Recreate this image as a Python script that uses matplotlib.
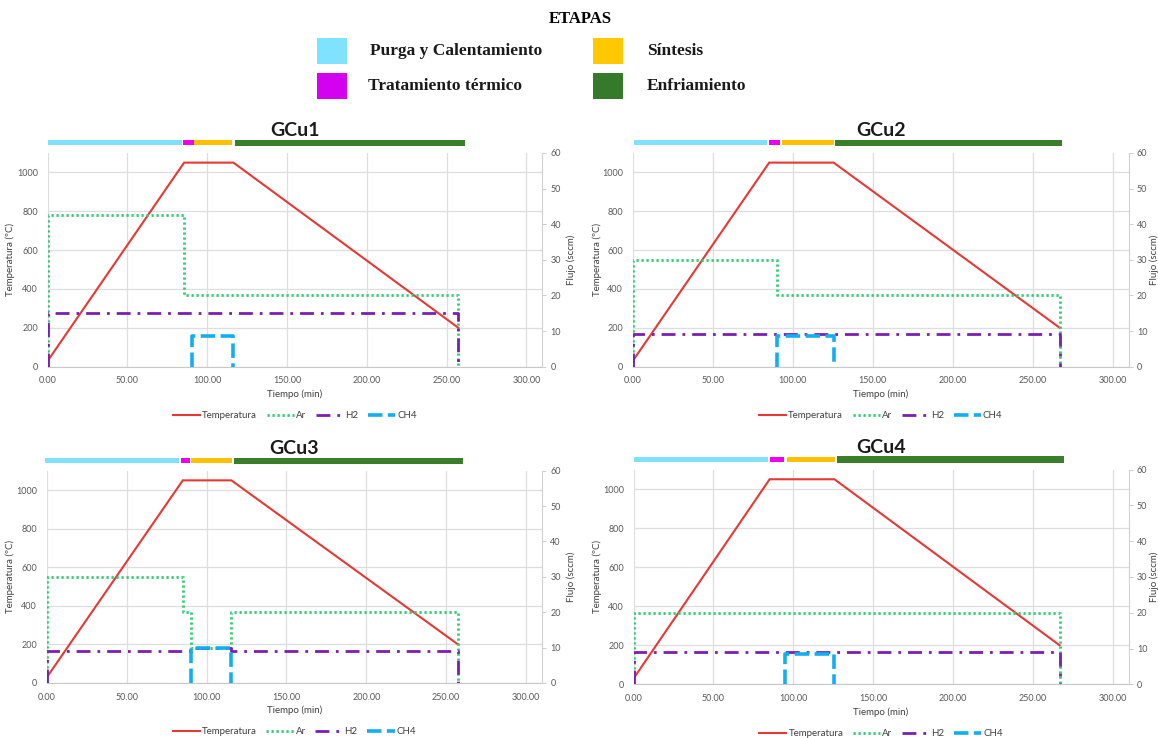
import matplotlib
matplotlib.use("Agg")
import matplotlib.pyplot as plt
from matplotlib.lines import Line2D

# ---------------- data ----------------
panel_names = ["GCu1", "GCu2", "GCu3", "GCu4"]

# Temperature profiles (time in min, temperature in ºC)
gcu1_temp_t = [0, 85.5, 116.4, 257.4]
gcu1_temp = [30, 1050, 1050, 200]
gcu2_temp_t = [0, 85.3, 125.6, 267.0]
gcu2_temp = [30, 1050, 1050, 200]
gcu3_temp_t = [0, 85.1, 115.5, 257.4]
gcu3_temp = [30, 1050, 1050, 200]
gcu4_temp_t = [0, 85.2, 125.8, 266.8]
gcu4_temp = [30, 1050, 1050, 200]

# Ar flow (sccm)
gcu1_ar_t = [0, 0, 85.5, 85.5, 257.4, 257.4]
gcu1_ar = [0, 42.5, 42.5, 20, 20, 0]
gcu2_ar_t = [0, 0, 90.3, 90.3, 267.0, 267.0]
gcu2_ar = [0, 30, 30, 20, 20, 0]
gcu3_ar_t = [0, 0, 85.1, 85.1, 90.5, 90.5, 115.3, 115.3, 257.4, 257.4]
gcu3_ar = [0, 30, 30, 20, 20, 10, 10, 20, 20, 0]
gcu4_ar_t = [0, 0, 266.8, 266.8]
gcu4_ar = [0, 20, 20, 0]

# H2 flow (sccm)
gcu1_h2_t = [0, 0, 257.4, 257.4]
gcu1_h2 = [0, 15, 15, 0]
gcu2_h2_t = [0, 0, 267.0, 267.0]
gcu2_h2 = [0, 9.2, 9.2, 0]
gcu3_h2_t = [0, 0, 90.2, 90.2, 115.5, 115.5, 257.4, 257.4]
gcu3_h2 = [0, 9, 9, 10, 10, 9, 9, 0]
gcu4_h2_t = [0, 0, 266.8, 266.8]
gcu4_h2 = [0, 9, 9, 0]

# CH4 flow (sccm)
gcu1_ch4_t = [90.2, 90.2, 116.4, 116.4]
gcu1_ch4 = [0, 8.7, 8.7, 0]
gcu2_ch4_t = [90.3, 90.3, 125.6, 125.6]
gcu2_ch4 = [0, 8.6, 8.6, 0]
gcu3_ch4_t = [90.2, 90.2, 115.5, 115.5]
gcu3_ch4 = [0, 10, 10, 0]
gcu4_ch4_t = [95.0, 95.0, 125.8, 125.8]
gcu4_ch4 = [0, 8.6, 8.6, 0]

# Stage bars (start, end) in minutes
stage_names = ["Purga y Calentamiento", "Tratamiento térmico", "Síntesis", "Enfriamiento"]
gcu1_stages = [(0, 83.9), (84.9, 91.4), (91.8, 115.5), (117.3, 261.3)]
gcu2_stages = [(0.5, 84.1), (85.0, 91.9), (93.3, 126.0), (126.7, 268.4)]
gcu3_stages = [(-0.9, 82.8), (83.9, 89.7), (90.4, 115.7), (117.1, 260.4)]
gcu4_stages = [(0.5, 84.2), (85.4, 94.2), (95.8, 126.2), (127.6, 269.5)]

x_ticks = [0, 50, 100, 150, 200, 250, 300]
temp_ticks = [0, 200, 400, 600, 800, 1000]
flow_ticks = [0, 10, 20, 30, 40, 50, 60]
series_labels = ["Temperatura", "Ar", "H2", "CH4"]

# ---------------- styles ----------------
stage_colors = ["#7fe0ff", "#ee00ee", "#ffc000", "#3a7d2a"]
legend_stage_colors = ["#7fe3ff", "#d400f0", "#ffc800", "#357a2a"]
c_temp = "#e53935"
c_ar = "#2ecc71"
c_h2 = "#7a1fb0"
c_ch4 = "#12aef0"
grid_c = "#dedede"
tick_c = "#595959"
ls_ar = (0, (0.8, 1.0))
ls_h2 = (0, (5, 2.5, 1, 2.5))
ls_ch4 = (0, (4, 1.5))

plt.rcParams["font.family"] = ["Lato", "DejaVu Sans"]

fig = plt.figure(figsize=(11.58, 7.38), dpi=100)

W, H = 1158, 738
# axes pixel boxes: (left, right, top, bottom)
boxes = [(47.7, 542.3, 152.9, 366.7),
         (632.8, 1128.5, 152.9, 366.7),
         (46.9, 542.0, 470.7, 683.0),
         (633.6, 1128.5, 469.5, 684.3)]

temps_t = [gcu1_temp_t, gcu2_temp_t, gcu3_temp_t, gcu4_temp_t]
temps = [gcu1_temp, gcu2_temp, gcu3_temp, gcu4_temp]
ars_t = [gcu1_ar_t, gcu2_ar_t, gcu3_ar_t, gcu4_ar_t]
ars = [gcu1_ar, gcu2_ar, gcu3_ar, gcu4_ar]
h2s_t = [gcu1_h2_t, gcu2_h2_t, gcu3_h2_t, gcu4_h2_t]
h2s = [gcu1_h2, gcu2_h2, gcu3_h2, gcu4_h2]
ch4s_t = [gcu1_ch4_t, gcu2_ch4_t, gcu3_ch4_t, gcu4_ch4_t]
ch4s = [gcu1_ch4, gcu2_ch4, gcu3_ch4, gcu4_ch4]
stages_all = [gcu1_stages, gcu2_stages, gcu3_stages, gcu4_stages]

for i, name in enumerate(panel_names):
    l, r, t, b = boxes[i]
    ax = fig.add_axes([l / W, 1 - b / H, (r - l) / W, (b - t) / H])
    ax2 = ax.twinx()
    ax.set_zorder(ax2.get_zorder() - 1)
    ax.patch.set_visible(True)
    ax2.patch.set_visible(False)

    ax.set_xlim(0, 310)
    ax.set_ylim(0, 1100)
    ax2.set_ylim(0, 60)

    ax.set_xticks(x_ticks)
    ax.set_xticklabels([f"{v:.2f}" for v in x_ticks])
    ax.set_yticks(temp_ticks)
    ax2.set_yticks(flow_ticks)
    ax.grid(True, color=grid_c, lw=0.9)
    ax.set_axisbelow(True)

    for sp in ["top", "right", "left"]:
        ax.spines[sp].set_visible(False)
    ax.spines["bottom"].set_color("#c8c8c8")
    for sp in ["top", "left", "bottom"]:
        ax2.spines[sp].set_visible(False)
    ax2.spines["right"].set_color("#d0d0d0")

    ax.tick_params(axis="y", length=0, labelsize=6.5, colors=tick_c, pad=7)
    ax.tick_params(axis="x", length=0, labelsize=6.5, colors=tick_c, pad=7)
    ax2.tick_params(axis="y", length=3, labelsize=6.5, colors=tick_c, pad=3, width=0.6)
    ax2.tick_params(axis="y", color="#c8c8c8")

    ax.set_xlabel("Tiempo (min)", fontsize=7, color="#404040", labelpad=3)
    ax.set_ylabel("Temperatura (ºC)", fontsize=7, color="#404040")
    ax2.set_ylabel("Flujo (sccm)", fontsize=7, color="#404040")
    w_px = r - l
    ax.yaxis.set_label_coords((15 - l) / w_px if i % 2 == 0 else (602 - l) / w_px, 0.5)
    ax2.yaxis.set_label_coords((566 - l) / w_px if i % 2 == 0 else (1149 - l) / w_px, 0.5)

    ax.plot(temps_t[i], temps[i], color=c_temp, lw=1.5, solid_joinstyle="miter")
    ax2.plot(ars_t[i], ars[i], color=c_ar, lw=2.0, linestyle=ls_ar)
    ax2.plot(h2s_t[i], h2s[i], color=c_h2, lw=2.0, linestyle=ls_h2)
    ax2.plot(ch4s_t[i], ch4s[i], color=c_ch4, lw=2.6, linestyle=ls_ch4)

    # stage bars above the plot
    for (s0, s1), col in zip(stages_all[i], stage_colors):
        y0, y1 = (1.036, 1.058) if col != stage_colors[3] else (1.032, 1.062)
        ax.axvspan(s0, s1, ymin=y0, ymax=y1, color=col, clip_on=False, lw=0)

    ax.text(0.5, 1.103, name, transform=ax.transAxes, ha="center", va="center",
            fontsize=14, fontweight="bold", color="#1a1a1a")

    handles = [Line2D([], [], color=c_temp, lw=1.5),
               Line2D([], [], color=c_ar, lw=2.0, linestyle=ls_ar),
               Line2D([], [], color=c_h2, lw=2.0, linestyle=ls_h2),
               Line2D([], [], color=c_ch4, lw=2.6, linestyle=ls_ch4)]
    ax.legend(handles, series_labels, loc="center",
              bbox_to_anchor=(0.5, -0.23), ncol=4, frameon=False, fontsize=7,
              handlelength=2.8, handletextpad=0.2, columnspacing=1.0,
              labelcolor="#404040")

# ---------------- top stage legend ----------------
serif = ["Liberation Serif", "DejaVu Serif"]
fig.text(580 / W, 1 - 19 / H, "ETAPAS", ha="center", va="center", fontsize=12,
         fontweight="bold", family=serif)
legend_items = [(317, 38, stage_names[0], 370, legend_stage_colors[0]),
                (317, 73, stage_names[1], 368, legend_stage_colors[1]),
                (593, 38, stage_names[2], 647, legend_stage_colors[2]),
                (593, 73, stage_names[3], 647, legend_stage_colors[3])]
for px, py, label, tx, col in legend_items:
    fig.patches.append(plt.Rectangle((px / W, 1 - (py + 26) / H), 30 / W, 26 / H,
                                     transform=fig.transFigure, color=col, lw=0))
    fig.text(tx / W, 1 - (py + 13) / H, label, ha="left", va="center", fontsize=12.5,
             fontweight="bold", family=serif, color="#1a1a1a")

fig.savefig("out.png", dpi=100)
